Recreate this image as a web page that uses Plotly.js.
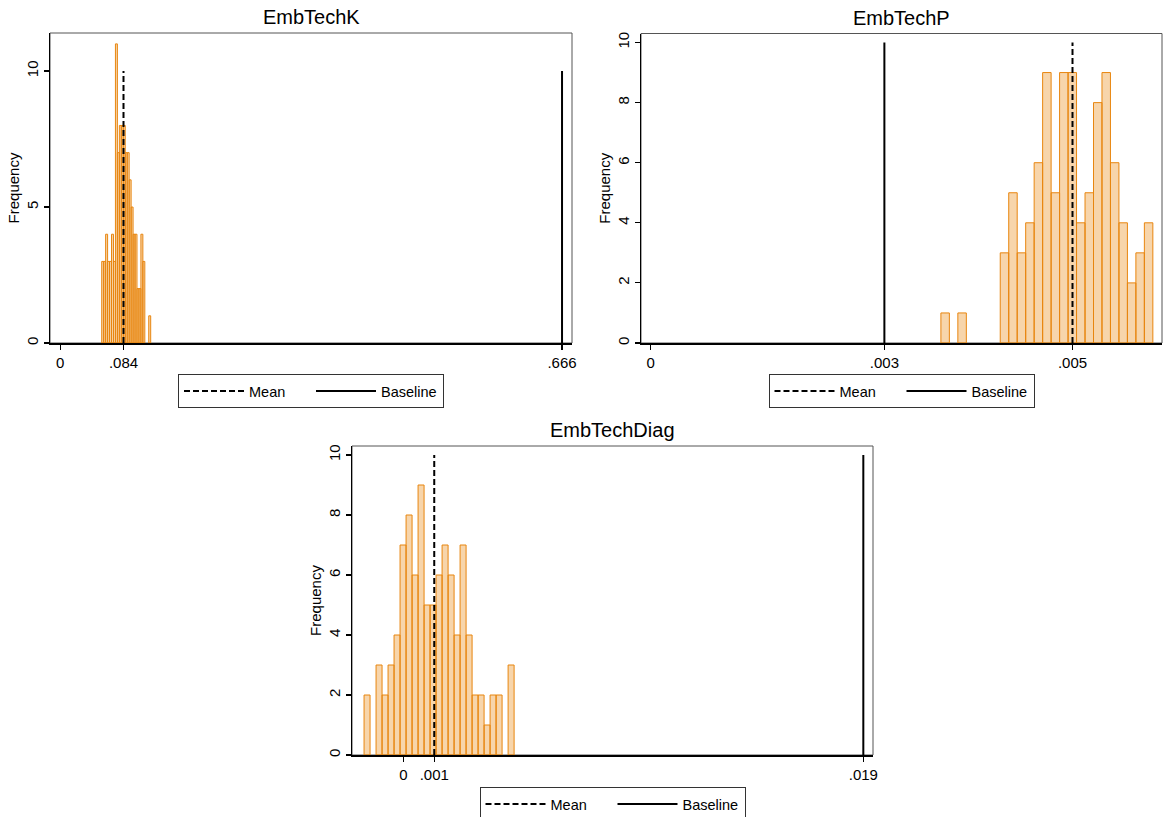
<!DOCTYPE html>
<html><head><meta charset="utf-8">
<script src="https://cdn.plot.ly/plotly-3.0.1.min.js"></script>
<style>html,body{margin:0;padding:0;background:#fff;overflow:hidden}#chart{width:1163px;height:817px}</style>
</head><body><div id="chart"></div>
<script>
// ---- data ----
const panelTitles = ['EmbTechK', 'EmbTechP', 'EmbTechDiag'];
const seriesNames = ['Mean', 'Baseline'];
const lineTop = 10; // frequency reached by the mean / baseline lines

// EmbTechK
const kBinStart = 0.0551;
const kBinWidth = 0.0026;
const kCounts = [3,3,4,3,3,4,3,11,7,8,8,8,7,7,6,5,4,4,2,2,4,3,0,0,1];
const kMean = 0.084;
const kBaseline = 0.666;

// EmbTechP
const pBinStart = 0.00344;
const pBinWidth = 0.0001005;
const pCounts = [1,0,1,0,0,0,0,3,5,3,4,6,9,5,9,9,4,5,8,9,6,4,2,3,4];
const pMean = 0.0050;
const pBaseline = 0.00277;

// EmbTechDiag
const dBinStart = -0.00163;
const dBinWidth = 0.000248;
const dCounts = [2,0,3,2,3,4,7,8,6,9,5,5,6,7,6,4,7,4,2,2,1,2,2,0,3];
const dMean = 0.00127;
const dBaseline = 0.019;

// ---- styling / layout ----
const FONT = 'Liberation Sans, Arial, Helvetica, sans-serif';
const FILL = 'rgba(232,134,15,0.35)';
const EDGE = '#E8860F';
const W = 1163, H = 817;

function fmt(v) {
  if (v === 0) return '0';
  return v.toFixed(3).replace(/^0/, '').replace(/^-0/, '-');
}

const panels = [
  {title: panelTitles[0], start: kBinStart, width: kBinWidth, counts: kCounts, mean: kMean, base: kBaseline,
   xa: 'x', ya: 'y', lg: 'legend', px: [50, 572], py: [33, 343], xr: [-0.01354, 0.67923], yr: [0, 11.4], dt: 5, lgap: 31},
  {title: panelTitles[1], start: pBinStart, width: pBinWidth, counts: pCounts, mean: pMean, base: pBaseline,
   xa: 'x2', ya: 'y2', lg: 'legend2', px: [641, 1162], py: [33.5, 343], xr: [-0.000115, 0.006061], yr: [0, 10.3], dt: 2, lgap: 31},
  {title: panelTitles[2], start: dBinStart, width: dBinWidth, counts: dCounts, mean: dMean, base: dBaseline,
   xa: 'x3', ya: 'y3', lg: 'legend3', px: [352, 873], py: [446, 755], xr: [-0.002128, 0.0194], yr: [0, 10.3], dt: 2, lgap: 32}
];

const traces = [];
const layout = {
  width: W, height: H,
  margin: {l: 0, r: 0, t: 0, b: 0, autoexpand: false},
  paper_bgcolor: '#fff', plot_bgcolor: '#fff',
  font: {family: FONT, color: '#000'},
  showlegend: true,
  barmode: 'overlay',
  shapes: [], annotations: []
};

panels.forEach((p, k) => {
  const xs = [], ys = [];
  p.counts.forEach((c, i) => { if (c > 0) { xs.push(p.start + (i + 0.5) * p.width); ys.push(c); } });
  traces.push({type: 'bar', x: xs, y: ys, width: p.width, xaxis: p.xa, yaxis: p.ya,
    marker: {color: FILL, line: {color: EDGE, width: 1}}, showlegend: false, hoverinfo: 'skip'});
  traces.push({type: 'scatter', mode: 'lines', x: [p.mean, p.mean], y: [0, lineTop], xaxis: p.xa, yaxis: p.ya,
    name: seriesNames[0], legend: p.lg, line: {color: '#000', width: 2, dash: '6px,3px'}});
  traces.push({type: 'scatter', mode: 'lines', x: [p.base, p.base], y: [0, lineTop], xaxis: p.xa, yaxis: p.ya,
    name: seriesNames[1], legend: p.lg, line: {color: '#000', width: 2}});

  const sfx = k === 0 ? '' : String(k + 1);
  layout['xaxis' + sfx] = {
    domain: [p.px[0] / W, p.px[1] / W], range: p.xr, anchor: p.ya,
    showline: true, linecolor: '#000', linewidth: 1.5, mirror: false,
    ticks: 'outside', ticklen: 5, tickwidth: 1.2, tickcolor: '#000',
    tickvals: [0, p.mean, p.base], ticktext: [0, p.mean, p.base].map(fmt),
    tickfont: {size: 15, color: '#000', family: FONT},
    showgrid: false, zeroline: false, fixedrange: true, automargin: false
  };
  layout['yaxis' + sfx] = {
    domain: [1 - p.py[1] / H, 1 - p.py[0] / H], range: p.yr, anchor: p.xa,
    showline: true, linecolor: '#000', linewidth: 1.5,
    ticks: 'outside', ticklen: 5, tickwidth: 1.2, tickcolor: '#000',
    dtick: p.dt, tick0: 0, tickangle: -90,
    tickfont: {size: 15, color: '#000', family: FONT},
    title: {text: 'Frequency', font: {size: 15, color: '#000', family: FONT}, standoff: 0},
    showgrid: false, zeroline: false, fixedrange: true, automargin: false
  };
  layout.shapes.push({type: 'rect', xref: p.xa + ' domain', yref: p.ya + ' domain', x0: 0, x1: 1, y0: 0, y1: 1,
    line: {color: '#555', width: 1}, layer: 'below'});
  layout.annotations.push({text: p.title, xref: p.xa + ' domain', yref: p.ya + ' domain', x: 0.5, y: 1,
    xanchor: 'center', yanchor: 'bottom', yshift: 3, showarrow: false,
    font: {size: 20, color: '#000', family: FONT}});
  layout[p.lg] = {
    x: ((p.px[0] + p.px[1]) / 2) / W, xanchor: 'center', xref: 'paper',
    y: 1 - (p.py[1] + p.lgap) / H, yanchor: 'top', yref: 'paper',
    orientation: 'h', bgcolor: '#fff', bordercolor: '#333', borderwidth: 1,
    font: {size: 14.5, color: '#000', family: FONT}, itemwidth: 60, entrywidth: 57, itemclick: false
  };
});

Plotly.newPlot('chart', traces, layout, {staticPlot: true, displayModeBar: false});
</script>
</body></html>
